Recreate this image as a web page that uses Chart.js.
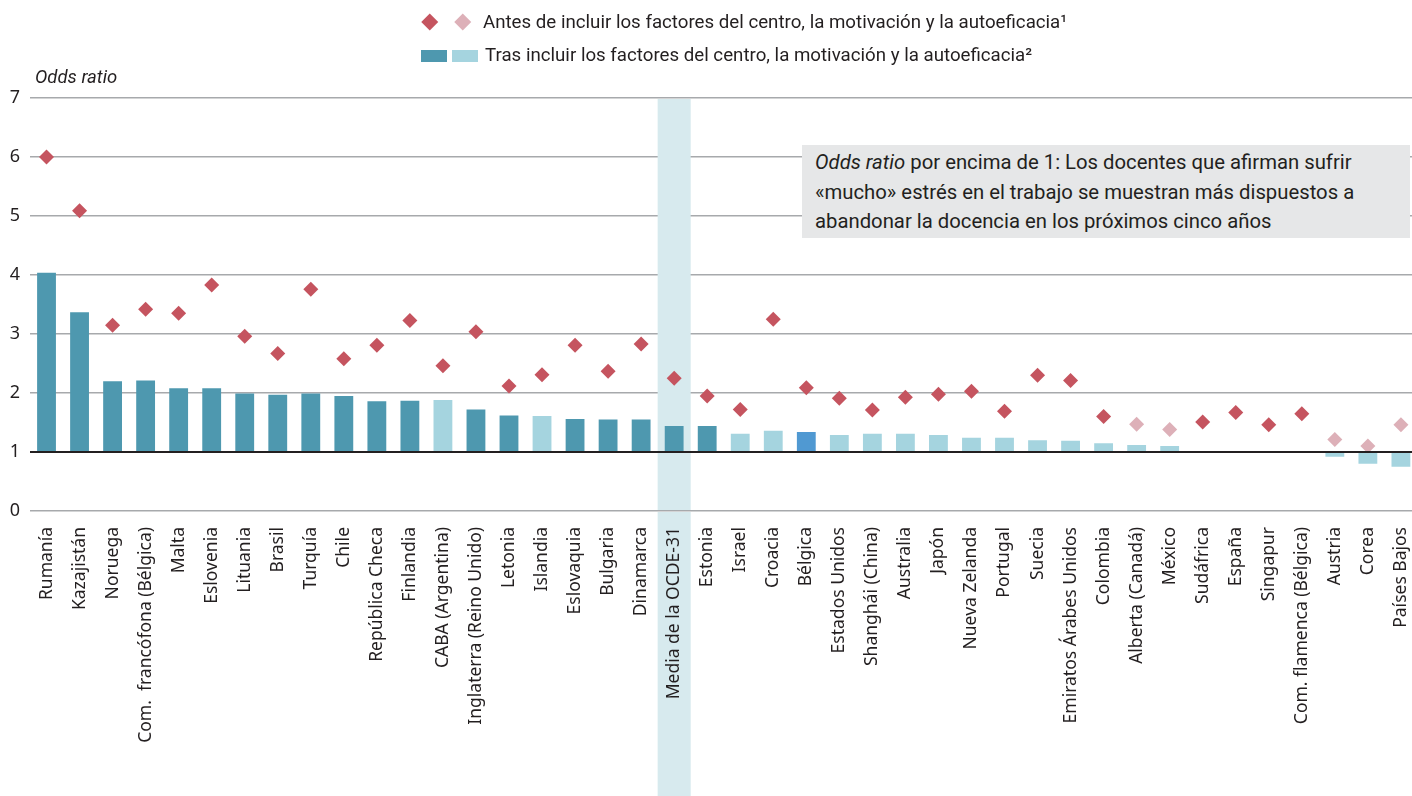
<!DOCTYPE html>
<html lang="es">
<head>
    <meta charset="UTF-8">
    <title>Odds ratio - estrés y abandono de la docencia</title>
    <script src="https://cdn.jsdelivr.net/npm/chart.js"></script>
    <style>
        html, body {
            margin: 0;
            padding: 0;
            background: #fff;
            overflow: hidden;
            font-family: "Noto Sans", sans-serif;
            color: #231F20;
        }
        #chartWrap {
            position: absolute;
            left: 0;
            top: 0;
            width: 1430px;
            height: 796px;
        }
        .legend-row {
            position: absolute;
            font-family: Roboto, "Noto Sans", sans-serif;
            font-size: 18.7px;
            line-height: 22px;
            white-space: nowrap;
        }
        .diamond {
            position: absolute;
            width: 11.5px;
            height: 11.5px;
            transform: rotate(45deg);
        }
        .swatch {
            position: absolute;
            width: 26px;
            height: 12px;
        }
        #yTitle {
            position: absolute;
            left: 35px;
            top: 66px;
            font-family: Roboto, "Noto Sans", sans-serif;
            font-style: italic;
            font-size: 18.5px;
        }
        #note {
            position: absolute;
            left: 802px;
            top: 145px;
            width: 595px;
            height: 90px;
            padding-left: 13px;
            padding-top: 3px;
            background: #E6E7E8;
            font-family: Roboto, "Noto Sans", sans-serif;
            font-size: 20.3px;
            line-height: 29.5px;
            box-sizing: content-box;
        }
    </style>
</head>
<body>
    <div id="chartWrap">
        <canvas id="oddsChart"></canvas>
    </div>

    <!-- legend -->
    <div class="diamond" style="left:424px; top:16px; background:#C5545F;"></div>
    <div class="diamond" style="left:457px; top:16px; background:#DDB0B8;"></div>
    <div class="legend-row" style="left:483px; top:11px;">Antes de incluir los factores del centro, la motivación y la autoeficacia¹</div>
    <div class="swatch" style="left:421px; top:50px; background:#4E98AF;"></div>
    <div class="swatch" style="left:452px; top:50px; background:#A5D4DF;"></div>
    <div class="legend-row" style="left:485px; top:44px;">Tras incluir los factores del centro, la motivación y la autoeficacia²</div>

    <div id="yTitle">Odds ratio</div>

    <div id="note"><i>Odds ratio</i> por encima de 1: Los docentes que afirman sufrir «mucho» estrés en el trabajo se muestran más dispuestos a abandonar la docencia en los próximos cinco años</div>

    <script>
        const categories = [
            'Rumanía', 'Kazajistán', 'Noruega', 'Com.  francófona (Bélgica)', 'Malta',
            'Eslovenia', 'Lituania', 'Brasil', 'Turquía', 'Chile',
            'República Checa', 'Finlandia', 'CABA (Argentina)', 'Inglaterra (Reino Unido)', 'Letonia',
            'Islandia', 'Eslovaquia', 'Bulgaria', 'Dinamarca', 'Media de la OCDE-31',
            'Estonia', 'Israel', 'Croacia', 'Bélgica', 'Estados Unidos',
            'Shanghái (China)', 'Australia', 'Japón', 'Nueva Zelanda', 'Portugal',
            'Suecia', 'Emiratos Árabes Unidos', 'Colombia', 'Alberta (Canadá)', 'México',
            'Sudáfrica', 'España', 'Singapur', 'Com. flamenca (Bélgica)', 'Austria',
            'Corea', 'Países Bajos'
        ];

        // odds ratio after adding school factors, motivation and self-efficacy (bars)
        const afterValues = [
            4.04, 3.37, 2.20, 2.21, 2.08,
            2.08, 1.99, 1.97, 1.99, 1.95,
            1.86, 1.87, 1.88, 1.72, 1.62,
            1.61, 1.56, 1.55, 1.55, 1.44,
            1.44, 1.31, 1.36, 1.34, 1.29,
            1.31, 1.31, 1.29, 1.24, 1.24,
            1.20, 1.19, 1.15, 1.12, 1.10,
            1.01, 1.00, 1.01, 1.00, 0.92,
            0.80, 0.75
        ];
        // 1 = significant (dark), 0 = not significant (light)
        const afterSignificant = [
            1, 1, 1, 1, 1, 1, 1, 1, 1, 1,
            1, 1, 0, 1, 1, 0, 1, 1, 1, 1,
            1, 0, 0, 0, 0, 0, 0, 0, 0, 0,
            0, 0, 0, 0, 0, 1, 1, 1, 1, 0,
            0, 0
        ];

        // odds ratio before adding the factors (diamonds)
        const beforeValues = [
            6.00, 5.09, 3.15, 3.42, 3.35,
            3.83, 2.96, 2.67, 3.76, 2.58,
            2.81, 3.23, 2.46, 3.04, 2.12,
            2.31, 2.81, 2.37, 2.83, 2.25,
            1.95, 1.72, 3.25, 2.09, 1.91,
            1.71, 1.93, 1.98, 2.03, 1.69,
            2.30, 2.21, 1.60, 1.47, 1.38,
            1.51, 1.67, 1.46, 1.65, 1.21,
            1.10, 1.46
        ];
        const beforeSignificant = [
            1, 1, 1, 1, 1, 1, 1, 1, 1, 1,
            1, 1, 1, 1, 1, 1, 1, 1, 1, 1,
            1, 1, 1, 1, 1, 1, 1, 1, 1, 1,
            1, 1, 1, 0, 0, 1, 1, 1, 1, 0,
            0, 0
        ];

        const yTicks = [0, 1, 2, 3, 4, 5, 6, 7];
        const oecdIndex = categories.indexOf('Media de la OCDE-31');
        const highlightIndex = categories.indexOf('Bélgica');

        const DARK_BAR = '#4E98AF';
        const LIGHT_BAR = '#A5D4DF';
        const HIGHLIGHT_BAR = '#5099D2';
        const DARK_DIAMOND = '#C5545F';
        const LIGHT_DIAMOND = '#DDB0B8';
        const BAND = '#D7EAEE';

        const barColors = afterSignificant.map((s, i) =>
            i === highlightIndex ? HIGHLIGHT_BAR : (s ? DARK_BAR : LIGHT_BAR));
        const diamondColors = beforeSignificant.map(s => s ? DARK_DIAMOND : LIGHT_DIAMOND);

        // OECD average band + baseline at odds ratio 1
        const bandPlugin = {
            id: 'bandPlugin',
            beforeDraw(chart) {
                const x = chart.scales.x;
                const y = chart.scales.y;
                const half = (x.getPixelForValue(1) - x.getPixelForValue(0)) / 2;
                const cx = x.getPixelForValue(oecdIndex);
                const c = chart.ctx;
                c.save();
                c.fillStyle = BAND;
                c.fillRect(cx - half, y.getPixelForValue(0) + 1, half * 2, chart.height);
                c.restore();
            },
            beforeDatasetsDraw(chart) {
                const x = chart.scales.x;
                const y = chart.scales.y;
                const half = (x.getPixelForValue(1) - x.getPixelForValue(0)) / 2;
                const cx = x.getPixelForValue(oecdIndex);
                const top = y.getPixelForValue(7) + 1;
                const bottom = y.getPixelForValue(0) - 1;
                const c = chart.ctx;
                c.save();
                c.fillStyle = BAND;
                c.fillRect(cx - half, top, half * 2, bottom - top);
                c.restore();
            },
            afterDatasetsDraw(chart) {
                const y = chart.scales.y;
                const c = chart.ctx;
                const yy = y.getPixelForValue(1);
                c.save();
                c.strokeStyle = '#231F20';
                c.lineWidth = 2;
                c.beginPath();
                c.moveTo(chart.chartArea.left, yy);
                c.lineTo(chart.chartArea.right, yy);
                c.stroke();
                c.restore();
            }
        };

        const ctx = document.getElementById('oddsChart').getContext('2d');
        const chart = new Chart(ctx, {
            type: 'bar',
            data: {
                labels: categories,
                datasets: [
                    {
                        type: 'line',
                        label: 'Antes',
                        data: beforeValues,
                        showLine: false,
                        pointStyle: 'rectRot',
                        pointRadius: 7.5,
                        pointHoverRadius: 7.5,
                        pointBorderWidth: 0,
                        pointBackgroundColor: diamondColors,
                        pointBorderColor: diamondColors
                    },
                    {
                        label: 'Tras',
                        data: afterValues.map(v => [1, v]),
                        backgroundColor: barColors,
                        borderWidth: 0,
                        barPercentage: 0.57,
                        categoryPercentage: 1.0
                    }
                ]
            },
            options: {
                responsive: true,
                maintainAspectRatio: false,
                animation: false,
                layout: {
                    padding: { top: 98, right: 0, bottom: 0, left: 0 }
                },
                plugins: {
                    legend: { display: false },
                    tooltip: { enabled: false }
                },
                scales: {
                    x: {
                        offset: true,
                        grid: { display: false },
                        border: { display: false },
                        ticks: {
                            autoSkip: false,
                            minRotation: 90,
                            maxRotation: 90,
                            padding: 8,
                            color: '#231F20',
                            font: { family: 'Noto Sans', size: 17.5 }
                        },
                        afterFit(scale) {
                            scale.height = 285;
                        }
                    },
                    y: {
                        min: 0,
                        max: 7,
                        afterBuildTicks(scale) {
                            scale.ticks = yTicks.map(v => ({ value: v }));
                        },
                        grid: {
                            drawTicks: false,
                            lineWidth: 1.5,
                            color: c => c.tick && c.tick.value === 1 ? 'rgba(0,0,0,0)' : '#A7A9AC'
                        },
                        border: { display: false },
                        ticks: {
                            padding: 10,
                            color: '#231F20',
                            font: { family: 'Noto Sans', size: 18 }
                        },
                        afterFit(scale) {
                            scale.width = 30;
                        }
                    }
                }
            },
            plugins: [bandPlugin]
        });
    </script>
</body>
</html>
